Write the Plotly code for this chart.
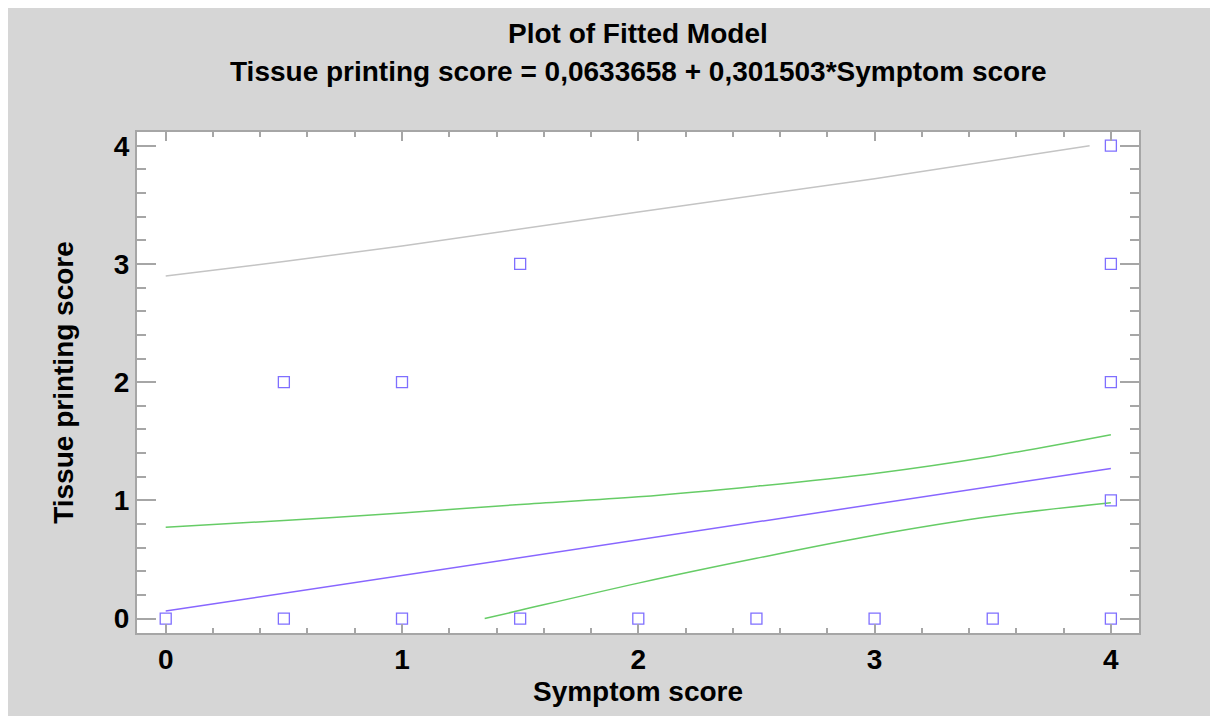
import plotly.graph_objects as go

# Observed data points
obs_x = [0, 0.5, 1, 1.5, 2, 2.5, 3, 3.5, 4, 0.5, 1, 1.5, 4, 4, 4, 4]
obs_y = [0, 0, 0, 0, 0, 0, 0, 0, 0, 2, 2, 3, 1, 2, 3, 4]

# Fitted line endpoints
fit_x = [0, 4]
fit_y = [0.0634, 1.2694]

# Confidence limits (green)
conf_up_x = [0, 0.5, 1, 1.5, 2, 2.5, 3, 3.5, 4]
conf_up_y = [0.773, 0.83, 0.894, 0.965, 1.03, 1.12, 1.228, 1.374, 1.555]
conf_lo_x = [1.35, 1.5, 2, 2.5, 3, 3.5, 4]
conf_lo_y = [0.0, 0.07, 0.30, 0.51, 0.705, 0.865, 0.98]

# Prediction limit (gray)
pred_up_x = [0, 0.5, 1, 2, 3, 3.91]
pred_up_y = [2.898, 3.02, 3.152, 3.44, 3.72, 4.0]

title1 = "Plot of Fitted Model"
title2 = "Tissue printing score = 0,0633658 + 0,301503*Symptom score"
x_title = "Symptom score"
y_title = "Tissue printing score"
tick_vals = [0, 1, 2, 3, 4]

FONT = "Liberation Sans, Arial, sans-serif"
BG = "#d6d6d6"
AX = "#a6a6a6"

fig = go.Figure()
fig.add_trace(go.Scatter(x=pred_up_x, y=pred_up_y, mode="lines",
                         line=dict(color="#c4c4c4", width=1.5), hoverinfo="skip"))
fig.add_trace(go.Scatter(x=conf_up_x, y=conf_up_y, mode="lines", line_shape="spline",
                         line=dict(color="#66cc66", width=1.5)))
fig.add_trace(go.Scatter(x=conf_lo_x, y=conf_lo_y, mode="lines", line_shape="spline",
                         line=dict(color="#66cc66", width=1.5)))
fig.add_trace(go.Scatter(x=fit_x, y=fit_y, mode="lines",
                         line=dict(color="#8866ff", width=1.5)))
fig.add_trace(go.Scatter(x=obs_x, y=obs_y, mode="markers",
                         marker=dict(symbol="square-open", size=11,
                                     color="#7f6fff", line=dict(width=1.3))))

axis_common = dict(
    showgrid=False, zeroline=False, showline=True, linecolor=AX, linewidth=2,
    mirror="allticks", ticks="inside", tickcolor=AX, tickwidth=1.5,
    tickvals=tick_vals, tickfont=dict(family=FONT, size=28, color="black", weight="bold"),
    title_font=dict(family=FONT, size=28, color="black", weight="bold"),
)

fig.update_xaxes(**axis_common, range=[-0.1215, 4.119], ticklen=9,
                 minor=dict(dtick=0.2, ticks="inside", ticklen=5, tickcolor=AX, tickwidth=1.5, tick0=0),
                 title_text=x_title, title_standoff=8)
fig.update_yaxes(**axis_common, range=[-0.122, 4.116], ticklen=19,
                 minor=dict(dtick=0.2, ticks="inside", ticklen=9, tickcolor=AX, tickwidth=1.5, tick0=0),
                 title_text=y_title, title_standoff=32)

fig.update_layout(
    width=1210, height=716,
    margin=dict(l=137, r=71, t=132, b=83),
    paper_bgcolor=BG, plot_bgcolor="white",
    showlegend=False,
    font=dict(family=FONT, color="black"),
    annotations=[
        dict(text=title1, xref="paper", yref="paper",
             x=(638 - 137) / 1002, y=1 + (132 - 34) / 501, xanchor="center", yanchor="middle",
             showarrow=False, font=dict(family=FONT, size=28, color="black", weight="bold")),
        dict(text=title2, xref="paper", yref="paper",
             x=(638 - 137) / 1002, y=1 + (132 - 72) / 501, xanchor="center", yanchor="middle",
             showarrow=False, font=dict(family=FONT, size=28, color="black", weight="bold")),
    ],
    shapes=[
        dict(type="rect", xref="paper", yref="paper", x0=-137 / 1002, x1=(1210 - 137) / 1002,
             y0=1 + (132 - 8) / 501, y1=1 + 132 / 501, fillcolor="white", line_width=0, layer="above"),
        dict(type="rect", xref="paper", yref="paper", x0=-137 / 1002, x1=(8 - 137) / 1002,
             y0=-83 / 501, y1=1 + 132 / 501, fillcolor="white", line_width=0, layer="above"),
    ],
)

fig.write_html("out.html")
